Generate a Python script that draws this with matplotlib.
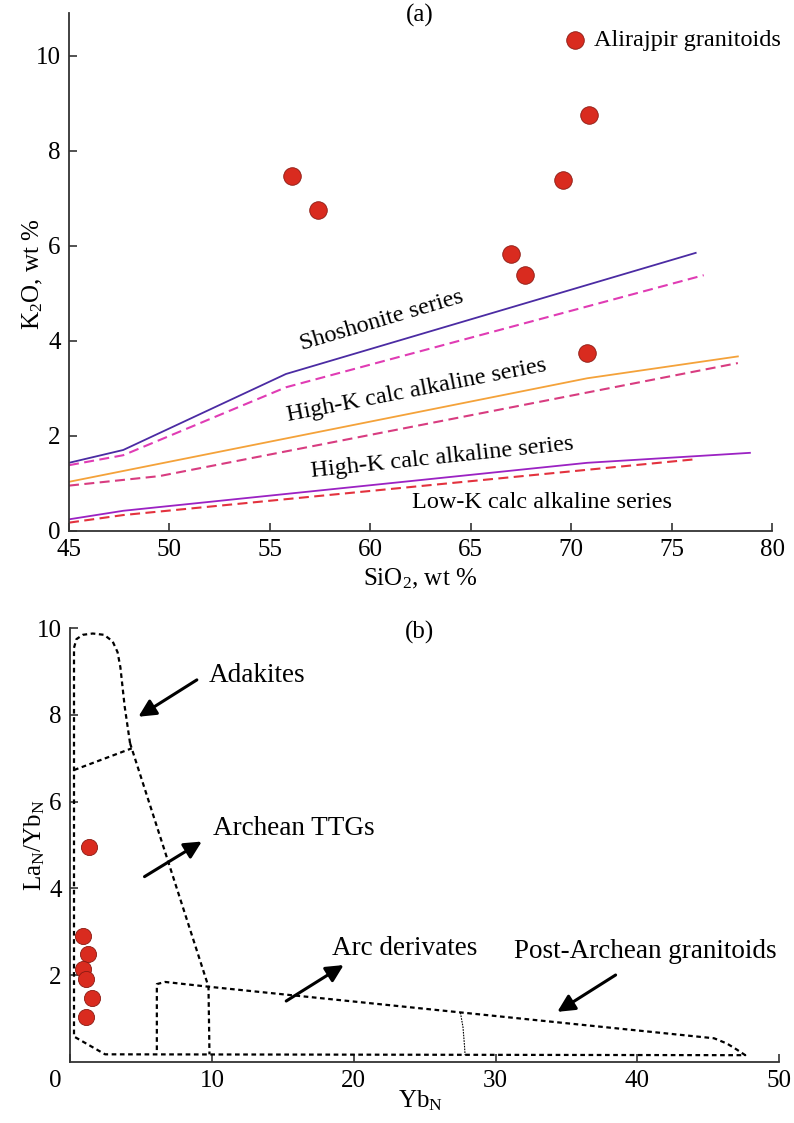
import numpy as np
import matplotlib.pyplot as plt
from matplotlib.transforms import ScaledTranslation

plt.rcParams['font.family'] = ['Liberation Serif', 'DejaVu Serif']
plt.rcParams['mathtext.default'] = 'regular'

# (a) K2O vs SiO2
sio2 = [56.1, 57.4, 70.9, 69.6, 67.0, 67.7, 70.8]
k2o = [7.47, 6.75, 8.76, 7.38, 5.82, 5.38, 3.74]

sho_x = [45, 47.7, 55.8, 76.2]
sho_y = [1.43, 1.70, 3.30, 5.85]
sho_d_x = [45, 47.7, 55.8, 76.6]
sho_d_y = [1.38, 1.59, 3.02, 5.38]
hk_x = [45, 70.8, 78.3]
hk_y = [1.03, 3.21, 3.67]
hk_d_x = [45, 49.5, 78.3]
hk_d_y = [0.95, 1.15, 3.53]
mk_x = [45, 47.7, 70.8, 78.9]
mk_y = [0.24, 0.42, 1.43, 1.64]
lk_d_x = [45, 47.7, 76.3]
lk_d_y = [0.17, 0.33, 1.51]

# (b) LaN/YbN vs YbN
ybn = [1.36, 0.94, 1.25, 0.94, 1.13, 1.57, 1.13]
la_yb = [4.95, 2.90, 2.48, 2.14, 1.90, 1.46, 1.04]

outer_x = [4.23, 3.85, 3.55, 3.35, 3.0, 2.4, 1.6, 0.9, 0.45, 0.28, 0.28, 2.47,
           47.6, 47.0, 46.3, 45.4, 9.76, 6.7, 6.12, 6.12]
outer_y = [7.35, 8.2, 9.1, 9.45, 9.7, 9.85, 9.88, 9.85, 9.75, 9.55, 0.58, 0.17,
           0.15, 0.28, 0.42, 0.54, 1.73, 1.84, 1.79, 0.25]
ttg_x = [4.23, 9.76, 9.83]
ttg_y = [7.35, 1.73, 0.17]
div_x = [0.28, 4.35]
div_y = [6.73, 7.23]
sep_x = [27.52, 27.7, 27.8, 27.85]
sep_y = [1.13, 0.8, 0.4, 0.15]

fig = plt.figure(figsize=(7.94, 11.23), dpi=100)
fs = 18
red = '#d92b1f'

ax1 = fig.add_axes([0.0869, 0.5274, 0.8854, 0.4610])
ax1.plot(sho_x, sho_y, color='#4b2ba3', lw=1.3)
ax1.plot(sho_d_x, sho_d_y, color='#e03cb4', lw=1.5, ls=(0, (4.8, 2.6)))
ax1.plot(hk_x, hk_y, color='#f4a23a', lw=1.3)
ax1.plot(hk_d_x, hk_d_y, color='#d83c80', lw=1.5, ls=(0, (4.8, 2.6)))
ax1.plot(mk_x, mk_y, color='#9b22c3', lw=1.3)
ax1.plot(lk_d_x, lk_d_y, color='#e3323e', lw=1.5, ls=(0, (4.8, 2.6)))
ax1.scatter(sio2, k2o, s=160, color=red, edgecolor='#8a1a12', lw=0.6,
            zorder=5, label='Alirajpir granitoids')
ax1.text(60.57, 4.42, 'Shoshonite series', fontsize=17.5, rotation=16.5,
         ha='center', va='center', rotation_mode='anchor')
ax1.text(62.3, 2.96, 'High-K calc alkaline series', fontsize=17.5, rotation=11,
         ha='center', va='center', rotation_mode='anchor')
ax1.text(63.6, 1.54, 'High-K calc alkaline series', fontsize=17.5, rotation=6,
         ha='center', va='center', rotation_mode='anchor')
ax1.text(68.57, 0.6, 'Low-K calc alkaline series', fontsize=17.5,
         ha='center', va='center')
ax1.set_xlim(45, 80)
ax1.set_ylim(0, 10.9)
ax1.set_xticks(np.arange(45, 81, 5))
ax1.set_yticks(np.arange(0, 11, 2))
ax1.legend(loc='upper right', bbox_to_anchor=(781 / 794, 1 - 29 / 1123),
           bbox_transform=fig.transFigure, frameon=False, fontsize=17.5,
           handlelength=0.9, handletextpad=0.35, borderpad=0, borderaxespad=0)
fig.text(420 / 794, 1 - 15 / 1123, '(a)', fontsize=fs, ha='center', va='center')
fig.text(33 / 794, 1 - 274 / 1123, 'K$_2$O, wt %', fontsize=fs, rotation=90,
         ha='center', va='center')
fig.text(420 / 794, 1 - 579 / 1123, 'SiO$_2$, wt %', fontsize=fs,
         ha='center', va='center')

ax2 = fig.add_axes([0.0882, 0.0546, 0.8933, 0.3859])
dash = (0, (2.1, 1.6))
ax2.plot(outer_x, outer_y, color='k', lw=1.6, ls=dash)
ax2.plot(ttg_x, ttg_y, color='k', lw=1.6, ls=dash)
ax2.plot(div_x, div_y, color='k', lw=1.6, ls=dash)
ax2.plot(sep_x, sep_y, color='k', lw=0.8, ls=(0, (1.5, 1)))
ax2.scatter(ybn, la_yb, s=135, color=red, edgecolor='#8a1a12', lw=0.6, zorder=5)

arrow = dict(arrowstyle='-|>', color='k', lw=2.2, mutation_scale=26,
             shrinkA=0, shrinkB=0)
ax2.annotate('', xy=(4.82, 7.96), xytext=(8.94, 8.81), arrowprops=arrow)
ax2.annotate('', xy=(9.29, 5.08), xytext=(5.25, 4.27), arrowprops=arrow)
ax2.annotate('', xy=(19.29, 2.23), xytext=(15.24, 1.40), arrowprops=arrow)
ax2.annotate('', xy=(34.35, 1.15), xytext=(38.46, 2.0), arrowprops=arrow)
fa = 19.5
ax2.text(9.81, 8.92, 'Adakites', fontsize=fa, va='center')
ax2.text(10.09, 5.39, 'Archean TTGs', fontsize=fa, va='center')
ax2.text(18.47, 2.62, 'Arc derivates', fontsize=fa, va='center')
ax2.text(31.28, 2.54, 'Post-Archean granitoids', fontsize=fa, va='center')
ax2.set_xlim(0, 50)
ax2.set_ylim(0, 10)
ax2.set_xticks(np.arange(0, 51, 10))
ax2.set_yticks([2, 4, 6, 8, 10])
fig.text(420 / 794, 1 - 632 / 1123, '(b)', fontsize=fs, ha='center', va='center')
fig.text(35 / 794, 1 - 845 / 1123, 'La$_N$/Yb$_N$', fontsize=fs, rotation=90,
         ha='center', va='center')
fig.text(420 / 794, 1 - 1101 / 1123, 'Yb$_N$', fontsize=fs, ha='center', va='center')

for ax in (ax1, ax2):
    for s in ('top', 'right'):
        ax.spines[s].set_visible(False)
    for s in ('left', 'bottom'):
        ax.spines[s].set_color('#333333')
        ax.spines[s].set_linewidth(1.3)
    ax.tick_params(direction='in', length=6, width=1.2, color='#333333',
                   labelsize=fs, pad=6)

lab0 = ax2.get_xticklabels()[0]
lab0.set_transform(lab0.get_transform() + ScaledTranslation(-0.15, 0, fig.dpi_scale_trans))

fig.savefig('out.png', dpi=100)
